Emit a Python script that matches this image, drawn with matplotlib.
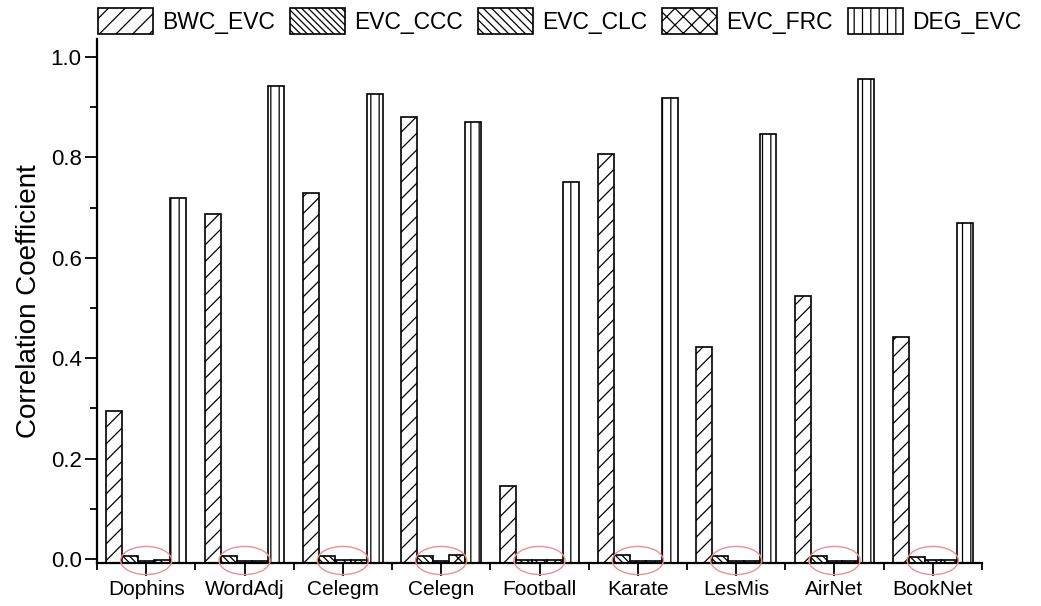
import numpy as np
import matplotlib
matplotlib.use("Agg")
import matplotlib.pyplot as plt
from matplotlib.patches import Ellipse

plt.rcParams['font.family'] = ['Liberation Sans', 'DejaVu Sans']
plt.rcParams['hatch.linewidth'] = 0.9

networks = ["Dophins", "WordAdj", "Celegm", "Celegn", "Football",
            "Karate", "LesMis", "AirNet", "BookNet"]
series = ["BWC_EVC", "EVC_CCC", "EVC_CLC", "EVC_FRC", "DEG_EVC"]

bwc_evc = [0.294, 0.687, 0.729, 0.880, 0.145, 0.807, 0.423, 0.523, 0.443]
evc_ccc = [0.005, 0.005, 0.006, 0.005, -0.003, 0.007, 0.005, 0.006, 0.003]
evc_clc = [-0.004, -0.004, -0.003, -0.004, -0.002, -0.005, -0.004, -0.004, -0.002]
evc_frc = [-0.003, -0.004, -0.003, 0.008, -0.002, -0.005, -0.004, -0.004, -0.002]
deg_evc = [0.720, 0.943, 0.926, 0.871, 0.751, 0.918, 0.846, 0.956, 0.669]

hatches = ['//', '\\\\\\\\\\', '\\\\\\\\', 'xx', '||']

# lower end of the value axis; bars rise from here
Y0 = -0.008

fig = plt.figure(figsize=(10.41, 6.06), dpi=100)
ax = fig.add_axes([97 / 1041, 43 / 606, 885 / 1041, 524 / 606])

x = np.arange(len(networks))
width = 0.162
handles = []
for k, (name, vals) in enumerate(zip(series, [bwc_evc, evc_ccc, evc_clc, evc_frc, deg_evc])):
    vals = np.asarray(vals)
    b = ax.bar(x + (k - 2) * width, vals - Y0, bottom=Y0, width=width,
               facecolor='white', edgecolor='black', linewidth=1.2,
               hatch=hatches[k], label=name, zorder=2)
    handles.append(b)

# circles marking the near-zero bars
for i in x:
    ax.add_patch(Ellipse((i, -0.003), 0.52, 0.056, facecolor='none',
                         edgecolor='#ee9090', linewidth=1.0, clip_on=False, zorder=3))

ax.set_xlim(-0.5, len(networks) - 0.5)
ax.set_ylim(Y0, 1.036)
ax.set_xticks(x)
ax.set_xticklabels(networks, fontsize=15)
ax.set_xticks(np.arange(-0.5, len(networks), 1.0), minor=True)
ax.set_yticks(np.arange(0, 1.01, 0.2))
ax.set_yticklabels(["%.1f" % v for v in np.arange(0, 1.01, 0.2)], fontsize=16)
ax.set_yticks(np.arange(0.1, 1.0, 0.2), minor=True)
ax.tick_params(axis='both', which='major', direction='out', length=9, width=1.3, pad=3)
ax.tick_params(axis='both', which='minor', direction='out', length=5, width=1.3)
ax.tick_params(axis='y', pad=2)

for side in ['top', 'right']:
    ax.spines[side].set_visible(False)
for side in ['left', 'bottom']:
    ax.spines[side].set_linewidth(1.6)

ax.set_ylabel("Correlation Coefficient", fontsize=20, labelpad=6)

fig.legend(handles=handles, loc='upper left', bbox_to_anchor=(90 / 1041, 1.0),
           ncol=5, frameon=False, fontsize=16.5, handlelength=2.4,
           handleheight=1.4, handletextpad=0.4, columnspacing=0.65,
           borderaxespad=0.15, borderpad=0.2)

fig.savefig("out.png", dpi=100)
